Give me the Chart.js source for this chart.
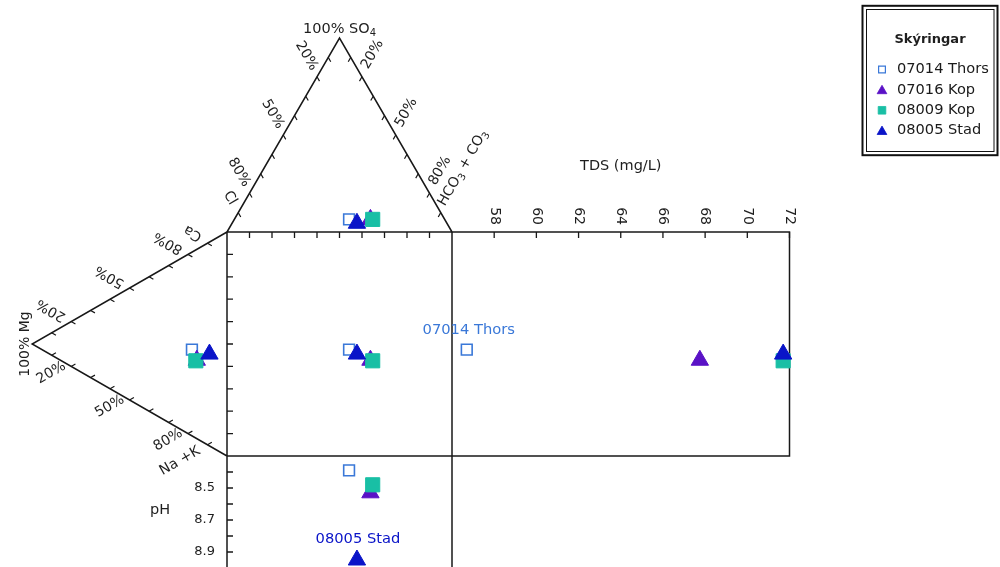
<!DOCTYPE html>
<html>
<head>
<meta charset="utf-8">
<title>Durov diagram</title>
<script src="https://cdn.jsdelivr.net/npm/chart.js@4.4.1/dist/chart.umd.min.js"></script>
<style>
  html, body { margin: 0; padding: 0; background: #ffffff; }
  #wrap { width: 1000px; height: 567px; }
</style>
</head>
<body>
<div id="wrap"><canvas id="durov" width="1000" height="567"></canvas></div>
<script>
// ---- sample data ----
const sampleNames = ['07014 Thors', '07016 Kop', '08009 Kop', '08005 Stad'];
// cations, % of meq/L
const caPct  = [38.5, 35.0, 34.5, 41.0];
const mgPct  = [18.0, 15.5, 16.0,  9.0];
const naKPct = [43.5, 49.5, 49.5, 50.0];
// anions, % of meq/L
const clPct   = [42.5, 33.0, 32.0, 40.0];
const so4Pct  = [ 6.5,  6.5,  6.5,  4.5];
const hco3Pct = [51.0, 60.5, 61.5, 55.5];
// total dissolved solids (mg/L) and pH
const tdsValues = [56.7, 67.75, 71.7, 71.7];
const phValues  = [8.39, 8.53, 8.48, 8.95];
// axis ticks
const tdsTicks = [58, 60, 62, 64, 66, 68, 70, 72];
const phTicks = [8.4, 8.5, 8.6, 8.7, 8.8, 8.9];
const phTickLabels = [8.5, 8.7, 8.9];
const pctTickLabels = [20, 50, 80];
// samples named next to their TDS / pH marks
const tdsLabelled = ['07014 Thors'];
const phLabelled = ['08005 Stad'];

// ---- marker styles (layer 0 is drawn on top) ----
const sampleStyles = [
  { shape: 'rect',     color: '#3a78d8', fill: 'rgba(255,255,255,0)', radius: 7.6, border: 1.6, layer: 3 },
  { shape: 'triangle', color: '#5a12c6', fill: '#5a12c6', radius: 10, border: 1, layer: 2 },
  { shape: 'rect',     color: '#19bfa5', fill: '#19bfa5', radius: 10, border: 1, layer: 1 },
  { shape: 'triangle', color: '#0a14c8', fill: '#0a14c8', radius: 10, border: 1, layer: 0 }
];

// ---- layout (pixels) ----
const CANVAS_W = 1000, CANVAS_H = 567;
const SQ_LEFT_PX = 227, SQ_BOTTOM_PX = 456;   // lower-left corner of the central square
const UNIT_X_PX = 2.25, UNIT_Y_PX = 2.24;     // square side = 100 diagram units
const TDS_PANEL_UNITS = 150;                  // TDS panel width in diagram units
const TDS_MIN = 56, TDS_MAX = 72;
const PH_TOP = 8.3, PH_PANEL_RANGE = 1.4;     // pH panel spans 100 diagram units
const TRI_H = 50 * Math.sqrt(3);
const FONT = '"DejaVu Sans", Verdana, sans-serif';
const LINE = '#181818';
const TEXT = '#1e1e1e';

// ---- Durov projection ----
function anionPoint(i) {
  const t = clPct[i] + so4Pct[i] + hco3Pct[i];
  const s = so4Pct[i] / t, h = hco3Pct[i] / t;
  return { x: 100 * h + 50 * s, y: 100 + TRI_H * s };
}
function cationPoint(i) {
  const t = caPct[i] + mgPct[i] + naKPct[i];
  const m = mgPct[i] / t, c = caPct[i] / t;
  return { x: -TRI_H * m, y: 100 * c + 50 * m };
}

// ---- datasets ----
const datasets = [];
const tdsIndex = {}, phIndex = {};
sampleNames.forEach((name, i) => {
  const st = sampleStyles[i];
  const a = anionPoint(i), c = cationPoint(i);
  const common = {
    label: name,
    pointStyle: st.shape,
    pointRadius: st.radius,
    pointBackgroundColor: st.fill,
    pointBorderColor: st.color,
    pointBorderWidth: st.border,
    order: st.layer,
    clip: false
  };
  datasets.push(Object.assign({}, common, {
    data: [a, c, { x: a.x, y: c.y }], xAxisID: 'x', yAxisID: 'y'
  }));
  tdsIndex[name] = datasets.length;
  datasets.push(Object.assign({}, common, {
    data: [{ x: tdsValues[i], y: c.y }], xAxisID: 'tds', yAxisID: 'y'
  }));
  phIndex[name] = datasets.length;
  datasets.push(Object.assign({}, common, {
    data: [{ x: a.x, y: phValues[i] }], xAxisID: 'x', yAxisID: 'ph'
  }));
});

// ---- scale ranges so that every panel lines up with the square ----
const tdsPxPerUnit = TDS_PANEL_UNITS * UNIT_X_PX / (TDS_MAX - TDS_MIN);
const tdsLeftPx = SQ_LEFT_PX + 100 * UNIT_X_PX;
const phPxPerUnit = 100 * UNIT_Y_PX / PH_PANEL_RANGE;

// ---- drawing helpers ----
function richText(ctx, parts, cx, cy, angle, size, color, opts) {
  opts = opts || {};
  const align = opts.align || 'center';
  const weight = opts.bold ? 'bold ' : '';
  ctx.save();
  ctx.translate(cx, cy);
  ctx.rotate(angle);
  ctx.fillStyle = color;
  ctx.textBaseline = 'middle';
  ctx.textAlign = 'left';
  const fontFor = p => weight + (p.sub ? Math.round(size * 0.72) : size) + 'px ' + FONT;
  let total = 0;
  parts.forEach(p => { ctx.font = fontFor(p); total += ctx.measureText(p.t).width; });
  let x = align === 'center' ? -total / 2 : (align === 'right' ? -total : 0);
  parts.forEach(p => {
    ctx.font = fontFor(p);
    ctx.fillText(p.t, x, p.sub ? size * 0.3 : 0);
    x += ctx.measureText(p.t).width;
  });
  ctx.restore();
}
const plain = s => [{ t: s }];

function marker(ctx, st, x, y, r, bw) {
  ctx.save();
  ctx.beginPath();
  if (st.shape === 'rect') {
    const s = r * Math.SQRT1_2;
    ctx.rect(x - s, y - s, 2 * s, 2 * s);
  } else {
    for (let k = 0; k < 3; k++) {
      const ang = k * 2 * Math.PI / 3;
      const px = x + Math.sin(ang) * r, py = y - Math.cos(ang) * r;
      if (k === 0) ctx.moveTo(px, py); else ctx.lineTo(px, py);
    }
    ctx.closePath();
  }
  ctx.fillStyle = st.fill;
  ctx.fill();
  ctx.lineWidth = bw;
  ctx.strokeStyle = st.color;
  ctx.stroke();
  ctx.restore();
}

const unit = (a, b) => { const dx = b.x - a.x, dy = b.y - a.y, l = Math.hypot(dx, dy); return { x: dx / l, y: dy / l }; };
const lerp = (a, b, k) => ({ x: a.x + (b.x - a.x) * k, y: a.y + (b.y - a.y) * k });

const durovPlugin = {
  id: 'durovFrame',
  beforeDatasetsDraw(chart) {
    const ctx = chart.ctx;
    const sx = chart.scales.x, sy = chart.scales.y, stds = chart.scales.tds, sph = chart.scales.ph;
    const pt = (x, y) => ({ x: sx.getPixelForValue(x), y: sy.getPixelForValue(y) });
    const cl = pt(0, 100), hc = pt(100, 100), so = pt(50, 100 + TRI_H);
    const ca = pt(0, 100), nk = pt(0, 0), mg = pt(-TRI_H, 50);
    const sqRight = sx.getPixelForValue(100);
    const tdsL = stds.getPixelForValue(TDS_MIN), tdsR = stds.getPixelForValue(TDS_MAX);
    const phT = sph.getPixelForValue(PH_TOP), phB = sph.getPixelForValue(PH_TOP + PH_PANEL_RANGE);

    ctx.save();
    ctx.strokeStyle = LINE;
    ctx.lineWidth = 1.5;
    ctx.beginPath();
    ctx.moveTo(cl.x, cl.y); ctx.lineTo(so.x, so.y); ctx.lineTo(hc.x, hc.y);
    ctx.moveTo(ca.x, ca.y); ctx.lineTo(mg.x, mg.y); ctx.lineTo(nk.x, nk.y);
    ctx.rect(ca.x, ca.y, sqRight - ca.x, nk.y - ca.y);
    ctx.rect(tdsL, ca.y, tdsR - tdsL, nk.y - ca.y);
    ctx.rect(nk.x, phT, sqRight - nk.x, phB - phT);
    ctx.stroke();

    // triangle side ticks, percentage labels
    const sides = [
      { from: so, to: cl, toward: hc, flip: 0,       shift: { x: 1, y: -1 } },
      { from: so, to: hc, toward: cl, flip: Math.PI, shift: { x: -1, y: -2.5 } },
      { from: mg, to: ca, toward: nk, flip: Math.PI, shift: { x: 0, y: 0 } },
      { from: mg, to: nk, toward: ca, flip: 0,       shift: { x: 0, y: -5 } }
    ];
    ctx.lineWidth = 1.2;
    sides.forEach(sd => {
      const d = unit(sd.from, sd.toward);
      ctx.beginPath();
      for (let k = 1; k <= 9; k++) {
        const p = lerp(sd.from, sd.to, k / 10);
        ctx.moveTo(p.x, p.y);
        ctx.lineTo(p.x + d.x * 5, p.y + d.y * 5);
      }
      ctx.stroke();
      const rot = Math.atan2(d.y, d.x) + sd.flip;
      pctTickLabels.forEach(v => {
        const p = lerp(sd.from, sd.to, v / 100);
        richText(ctx, plain(v + '%'), p.x - d.x * 23 + sd.shift.x, p.y - d.y * 23 + sd.shift.y, rot, 14, TEXT);
      });
    });

    // end-member names
    richText(ctx, [{ t: '100% SO' }, { t: '4', sub: true }], so.x, so.y - 9, 0, 14.5, TEXT);
    richText(ctx, plain('Cl'), cl.x + 3, cl.y - 34, Math.PI / 3, 14, TEXT);
    richText(ctx, [{ t: 'HCO' }, { t: '3', sub: true }, { t: ' + CO' }, { t: '3', sub: true }],
      hc.x + 11, hc.y - 64, -Math.PI / 3, 14, TEXT);
    richText(ctx, plain('Ca'), ca.x - 34, ca.y + 1, Math.PI * 7 / 6, 14, TEXT);
    richText(ctx, plain('Na +K'), nk.x - 47, nk.y + 5, -Math.PI / 6, 14, TEXT);
    richText(ctx, plain('100% Mg'), mg.x - 7, mg.y, -Math.PI / 2, 14, TEXT);

    // square ticks
    ctx.lineWidth = 1.3;
    ctx.beginPath();
    for (let k = 1; k <= 9; k++) {
      const yy = sy.getPixelForValue(k * 10), xx = sx.getPixelForValue(k * 10);
      ctx.moveTo(ca.x, yy); ctx.lineTo(ca.x + 6, yy);
      ctx.moveTo(xx, ca.y); ctx.lineTo(xx, ca.y + 6);
    }
    // TDS ticks
    tdsTicks.forEach(v => {
      const xx = stds.getPixelForValue(v);
      ctx.moveTo(xx, ca.y); ctx.lineTo(xx, ca.y + 6);
    });
    // pH ticks
    phTicks.forEach(v => {
      const yy = sph.getPixelForValue(v);
      ctx.moveTo(nk.x, yy); ctx.lineTo(nk.x + 6, yy);
    });
    ctx.stroke();

    tdsTicks.forEach(v => {
      richText(ctx, plain(String(v)), stds.getPixelForValue(v), ca.y - 7, Math.PI / 2, 14, TEXT, { align: 'right' });
    });
    richText(ctx, plain('TDS (mg/L)'), (tdsL + tdsR) / 2, ca.y - 66, 0, 14.5, TEXT);

    phTickLabels.forEach(v => {
      richText(ctx, plain(v.toFixed(1)), nk.x - 12, sph.getPixelForValue(v), 0, 13, TEXT, { align: 'right' });
    });
    richText(ctx, plain('pH'), nk.x - 67, sph.getPixelForValue(8.64), 0, 14.5, TEXT);
    ctx.restore();
  },
  afterDatasetsDraw(chart) {
    const ctx = chart.ctx;
    tdsLabelled.forEach(name => {
      const el = chart.getDatasetMeta(tdsIndex[name]).data[0];
      const i = sampleNames.indexOf(name);
      richText(ctx, plain(name), el.x + 2, el.y - 19, 0, 14.7, sampleStyles[i].color);
    });
    phLabelled.forEach(name => {
      const el = chart.getDatasetMeta(phIndex[name]).data[0];
      const i = sampleNames.indexOf(name);
      richText(ctx, plain(name), el.x + 1, el.y - 21, 0, 14.7, sampleStyles[i].color);
    });

    // legend box
    ctx.save();
    ctx.strokeStyle = '#111111';
    ctx.lineWidth = 2;
    ctx.strokeRect(862.5, 5.8, 135, 149.4);
    ctx.lineWidth = 1;
    ctx.strokeRect(866.5, 9.5, 127.5, 142);
    richText(ctx, plain('Skýringar'), 930, 40, 0, 13, TEXT, { bold: true });
    sampleNames.forEach((name, i) => {
      const y = 69.5 + 20.4 * i;
      const st = sampleStyles[i];
      const small = st.shape === 'rect' ? (st.layer === 3 ? 4.8 : 5.4) : 5.6;
      marker(ctx, st, 882, y + (st.shape === 'triangle' ? 1 : 0), small, st.layer === 3 ? 1.2 : 0.8);
      richText(ctx, plain(name), 897, y, 0, 14.6, '#1a1a1a', { align: 'left' });
    });
    ctx.restore();
  }
};

new Chart(document.getElementById('durov'), {
  type: 'scatter',
  data: { datasets },
  options: {
    responsive: false,
    animation: false,
    devicePixelRatio: 1,
    events: [],
    layout: { padding: 0, autoPadding: false },
    plugins: { legend: { display: false }, tooltip: { enabled: false } },
    scales: {
      x: {
        type: 'linear', display: false,
        min: -SQ_LEFT_PX / UNIT_X_PX,
        max: (CANVAS_W - SQ_LEFT_PX) / UNIT_X_PX
      },
      y: {
        type: 'linear', display: false,
        min: -(CANVAS_H - SQ_BOTTOM_PX) / UNIT_Y_PX,
        max: SQ_BOTTOM_PX / UNIT_Y_PX
      },
      tds: {
        type: 'linear', axis: 'x', position: 'top', display: false,
        min: TDS_MIN - tdsLeftPx / tdsPxPerUnit,
        max: TDS_MIN + (CANVAS_W - tdsLeftPx) / tdsPxPerUnit
      },
      ph: {
        type: 'linear', axis: 'y', position: 'left', display: false, reverse: true,
        min: PH_TOP - SQ_BOTTOM_PX / phPxPerUnit,
        max: PH_TOP + (CANVAS_H - SQ_BOTTOM_PX) / phPxPerUnit
      }
    }
  },
  plugins: [durovPlugin]
});
</script>
</body>
</html>
